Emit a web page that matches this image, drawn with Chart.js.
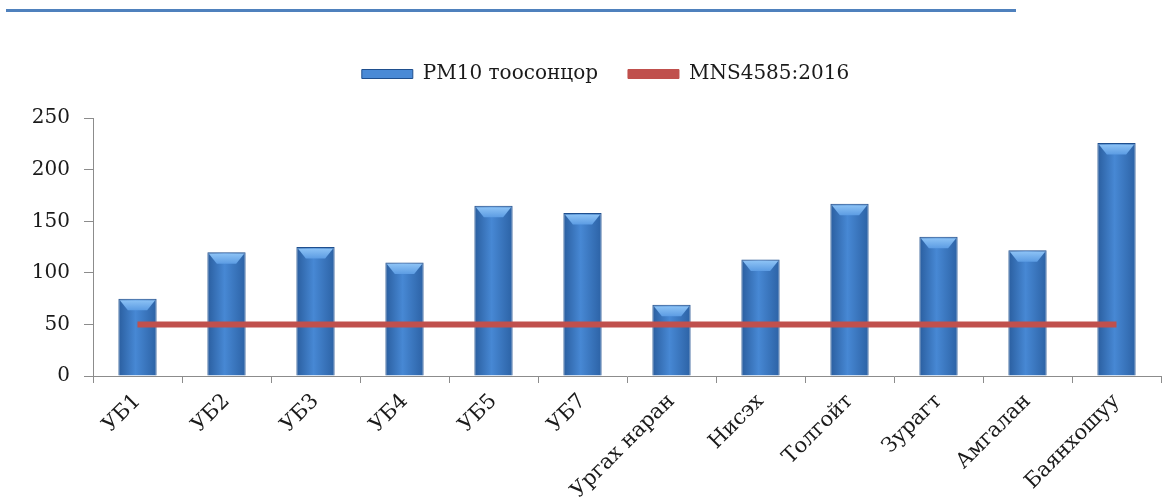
<!DOCTYPE html>
<html>
<head>
<meta charset="utf-8">
<script src="https://cdn.jsdelivr.net/npm/chart.js@4.4.1/dist/chart.umd.min.js"></script>
<style>
  body { margin: 0; background: #fff; }
  #wrap { position: relative; width: 1164px; height: 497px; }
  #rule { position: absolute; left: 6px; top: 9px; width: 1010px; height: 3px; background: #4f81bd; }
</style>
</head>
<body>
<div id="wrap">
  <div id="rule"></div>
  <canvas id="pmChart"></canvas>
</div>
<script>
const stations = ["УБ1", "УБ2", "УБ3", "УБ4", "УБ5", "УБ7", "Ургах наран", "Нисэх", "Толгойт", "Зурагт", "Амгалан", "Баянхошуу"];
const pm10Values = [75, 120, 125, 110, 165, 158, 69, 113, 167, 135, 122, 226];
const standardValues = [50, 50, 50, 50, 50, 50, 50, 50, 50, 50, 50, 50];
const yTicks = [0, 50, 100, 150, 200, 250];

const barMid = "#4a8ad6";
const barEdge = "#1f4f8e";
const lineRed = "#c0504d";
const serif = "'DejaVu Serif', 'Liberation Serif', serif";

// glossy bar look: horizontal gradient + light top bevel
const barGloss = {
  id: "barGloss",
  beforeDatasetDraw(chart, args) {
    if (args.meta.type !== "bar") return;
    const ctx = chart.ctx;
    args.meta.data.forEach(bar => {
      const left = bar.x - bar.width / 2;
      const g = ctx.createLinearGradient(left, 0, left + bar.width, 0);
      g.addColorStop(0, "#2a5e9f");
      g.addColorStop(0.45, "#4788d4");
      g.addColorStop(1, "#2c62a5");
      bar.options.backgroundColor = g;
    });
  },
  afterDatasetDraw(chart, args) {
    if (args.meta.type !== "bar") return;
    const ctx = chart.ctx;
    ctx.save();
    args.meta.data.forEach(bar => {
      const l = bar.x - bar.width / 2 + 1.5;
      const r = bar.x + bar.width / 2 - 1.5;
      const t = bar.y + 1.5;
      const g = ctx.createLinearGradient(0, t, 0, t + 10);
      g.addColorStop(0, "#8cc2f5");
      g.addColorStop(1, "#5c9ce3");
      ctx.fillStyle = g;
      ctx.beginPath();
      ctx.moveTo(l, t);
      ctx.lineTo(r, t);
      ctx.lineTo(r - 8, t + 10);
      ctx.lineTo(l + 8, t + 10);
      ctx.closePath();
      ctx.fill();
    });
    ctx.restore();
  },
  // push the legend a bit right, like the original
  afterLayout(chart) {
    chart.legend.left = 50;
  }
};

new Chart(document.getElementById("pmChart"), {
  data: {
    labels: stations,
    datasets: [
      {
        type: "line",
        label: "MNS4585:2016",
        data: standardValues,
        borderColor: lineRed,
        backgroundColor: lineRed,
        borderWidth: 6,
        pointRadius: 0,
        order: 0
      },
      {
        type: "bar",
        label: "PM10 тоосонцор",
        data: pm10Values,
        backgroundColor: () => barMid,
        borderColor: barEdge,
        borderWidth: 1,
        categoryPercentage: 1,
        barPercentage: 0.43,
        order: 1
      }
    ]
  },
  options: {
    responsive: true,
    maintainAspectRatio: false,
    animation: false,
    layout: { padding: { left: 0, right: 3, top: 34, bottom: 0 } },
    plugins: {
      tooltip: { enabled: false },
      title: {
        display: true,
        text: "",
        weight: 500,
        font: { size: 1 },
        padding: { top: 0, bottom: 23 }
      },
      legend: {
        position: "top",
        reverse: true,
        labels: {
          boxWidth: 51,
          boxHeight: 9,
          padding: 30,
          color: "#1a1a1a",
          font: { family: serif, size: 20 },
          generateLabels(chart) {
            return chart.data.datasets.map((ds, i) => ({
              text: ds.label,
              fillStyle: ds.type === "bar" ? barMid : lineRed,
              strokeStyle: ds.type === "bar" ? barEdge : lineRed,
              lineWidth: 1,
              datasetIndex: i,
              fontColor: "#1a1a1a"
            }));
          }
        }
      }
    },
    scales: {
      x: {
        offset: true,
        border: { color: "#8c8c8c" },
        grid: { offset: true, drawOnChartArea: false, tickLength: 7, color: "#8c8c8c" },
        ticks: {
          autoSkip: false,
          maxRotation: 45,
          minRotation: 45,
          padding: 6,
          color: "#1a1a1a",
          font: { family: serif, size: 21 }
        },
        afterFit(scale) { scale.height = 121; }
      },
      y: {
        min: 0,
        max: 250,
        border: { color: "#8c8c8c" },
        grid: { drawOnChartArea: false, tickLength: 9, color: "#8c8c8c" },
        afterBuildTicks(scale) { scale.ticks = yTicks.map(v => ({ value: v })); },
        ticks: {
          padding: 14,
          color: "#1a1a1a",
          font: { family: serif, size: 20 }
        },
        afterFit(scale) { scale.width = 93; }
      }
    }
  },
  plugins: [barGloss]
});
</script>
</body>
</html>
